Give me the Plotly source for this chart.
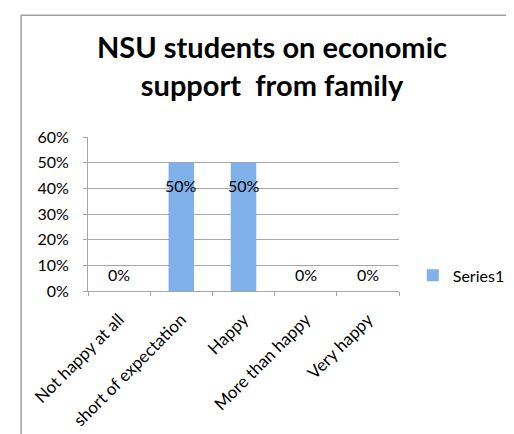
import plotly.graph_objects as go

categories = ["Not happy at all", "short of expectation", "Happy", "More than happy", "Very happy"]
values = [0.0, 0.5, 0.5, 0.0, 0.0]
label_texts = ["0%", "50%", "50%", "0%", "0%"]
series_name = "Series1"
title_text = "NSU students on economic<br>support  from family"

FONT = "Lato, Carlito, 'Open Sans', sans-serif"
GRID = "#a6a6a6"

W, H = 514, 434
L, R, T, B = 80, 118, 129, 147
pw = W - L - R
ph = H - T - B

fig = go.Figure()
fig.add_trace(go.Bar(
    x=categories, y=values, name=series_name,
    marker=dict(color="#80b1ea", line=dict(width=0)),
    showlegend=True,
))

for c, v, t in zip(categories, values, label_texts):
    fig.add_annotation(
        x=c, y=v, text=t, showarrow=False,
        xref="x", yref="y",
        yshift=(-23 if v > 0 else 17),
        font=dict(family=FONT, size=16, color="#000000"),
    )

# outer chart border
fig.add_shape(
    type="rect", xref="paper", yref="paper",
    x0=(12 - L) / pw, x1=(W + 20 - L) / pw,
    y0=-(H + 20 - T - ph) / ph, y1=(T + ph - 4) / ph,
    line=dict(color="#a0a0a0", width=1.5), fillcolor="rgba(0,0,0,0)", layer="below",
)

fig.update_layout(
    width=W, height=H,
    margin=dict(l=L, r=R, t=T, b=B, pad=0),
    paper_bgcolor="white", plot_bgcolor="white",
    font=dict(family=FONT, size=16, color="#000000"),
    bargap=0.59,
    title=dict(
        text=title_text,
        font=dict(family=FONT, size=29, color="#000000", weight="bold"),
        x=264 / W, xref="container", xanchor="center",
        y=1 - 50 / H, yref="container", yanchor="top",
        pad=dict(t=0, b=0),
    ),
    legend=dict(
        x=(410 - L) / pw, xanchor="left",
        y=(T + ph - 271) / ph, yanchor="middle",
        font=dict(family=FONT, size=16, color="#000000"),
        itemwidth=30, bgcolor="rgba(0,0,0,0)",
    ),
    xaxis=dict(
        type="category",
        showline=True, linecolor=GRID, linewidth=1,
        ticks="outside", ticklen=4, tickcolor=GRID, tickwidth=1,
        tickson="boundaries",
        tickangle=-45,
        tickfont=dict(family=FONT, size=17, color="#000000"),
        ticklabelstandoff=11,
        showgrid=False,
    ),
    yaxis=dict(
        range=[0, 0.6], dtick=0.1, tickformat=".0%",
        showline=True, linecolor=GRID, linewidth=1,
        ticks="outside", ticklen=4, tickcolor=GRID, tickwidth=1,
        showgrid=True, gridcolor=GRID, gridwidth=1,
        zeroline=False,
        tickfont=dict(family=FONT, size=16, color="#000000"),
        ticklabelstandoff=11,
    ),
)

fig.write_html("out.html")
